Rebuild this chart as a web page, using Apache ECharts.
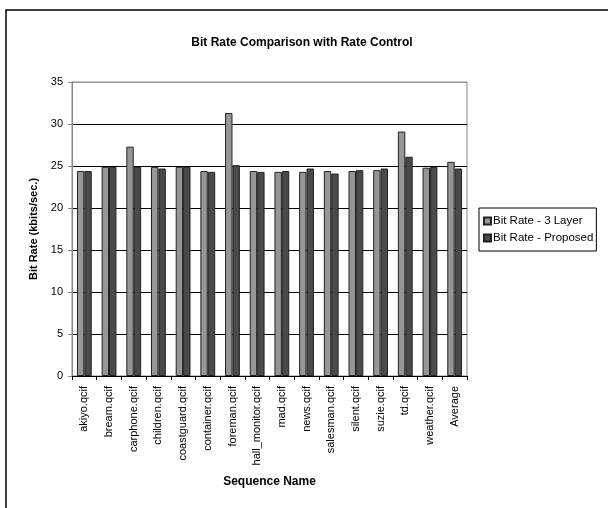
<!DOCTYPE html>
<html><head><meta charset="utf-8">
<script src="https://cdn.jsdelivr.net/npm/echarts@6/dist/echarts.min.js"></script>
<style>html,body{margin:0;padding:0;background:#fff}#c{width:608px;height:508px}</style>
</head><body><div id="c"></div>
<script>
var categories = ['akiyo.qcif','bream.qcif','carphone.qcif','children.qcif','coastguard.qcif','container.qcif','foreman.qcif','hall_monitor.qcif','mad.qcif','news.qcif','salesman.qcif','silent.qcif','suzie.qcif','td.qcif','weather.qcif','Average'];
var threeLayer = [24.4,24.9,27.3,24.9,24.9,24.4,31.3,24.4,24.3,24.3,24.4,24.4,24.5,29.1,24.8,25.5];
var proposed   = [24.4,24.9,24.9,24.7,24.9,24.3,25.1,24.3,24.4,24.7,24.1,24.5,24.7,26.1,24.9,24.7];
var yTicks = [0,5,10,15,20,25,30,35];

var chart = echarts.init(document.getElementById('c'), null, {renderer:'canvas'});
var font = 'Arial, "Liberation Sans", sans-serif';
chart.setOption({
  animation:false,
  backgroundColor:'#fff',
  textStyle:{fontFamily:font},
  title:{text:'Bit Rate Comparison with Rate Control', left:297, top:32, textAlign:'center',
    textStyle:{fontSize:12, fontWeight:'bold', color:'#000', fontFamily:font}},
  graphic:[{type:'rect', shape:{x:6,y:10,width:700,height:600}, style:{fill:'none', stroke:'#000', lineWidth:1.5}, silent:true}],
  legend:{left:479, top:208, orient:'vertical', itemWidth:7, itemHeight:7, itemGap:5,
    padding:[7,3,7,4], borderColor:'#000', borderWidth:1, icon:'rect',
    textStyle:{fontSize:11.5, color:'#000', fontFamily:font, padding:[0,0,0,-3]}},
  grid:{left:72, top:82, width:395, height:294, show:true, borderColor:'#888', borderWidth:1, containLabel:false},
  xAxis:{type:'category', data:categories, name:'Sequence Name', nameLocation:'middle', nameGap:100,
    nameTextStyle:{fontSize:12, fontWeight:'bold', color:'#000', fontFamily:font},
    axisLine:{lineStyle:{color:'#000'}},
    axisTick:{show:true, alignWithLabel:false, length:4, lineStyle:{color:'#000'}},
    axisLabel:{rotate:90, fontSize:11, color:'#000', margin:10, interval:0, fontFamily:font}},
  yAxis:{type:'value', min:0, max:35, interval:5, name:'Bit Rate (kbits/sec.)', nameLocation:'middle', nameGap:33,
    nameTextStyle:{fontSize:11, fontWeight:'bold', color:'#000', fontFamily:font},
    axisLine:{show:true, lineStyle:{color:'#888'}},
    axisTick:{show:true, length:4, lineStyle:{color:'#888'}},
    splitLine:{lineStyle:{color:['#000','#000','#000','#000','#000','#000','#000','#999'], width:1}},
    axisLabel:{fontSize:11, color:'#000', margin:9, fontFamily:font,
      formatter:function(v){return yTicks.indexOf(v)>=0?String(v):'';}}},
  series:[
    {name:'Bit Rate - 3 Layer', type:'bar', data:threeLayer, barGap:'0%', barCategoryGap:'40%',
      itemStyle:{color:'#969696', borderColor:'#222', borderWidth:1}},
    {name:'Bit Rate - Proposed', type:'bar', data:proposed,
      itemStyle:{color:'#4a4a4a', borderColor:'#222', borderWidth:1}}
  ]
});
</script></body></html>
